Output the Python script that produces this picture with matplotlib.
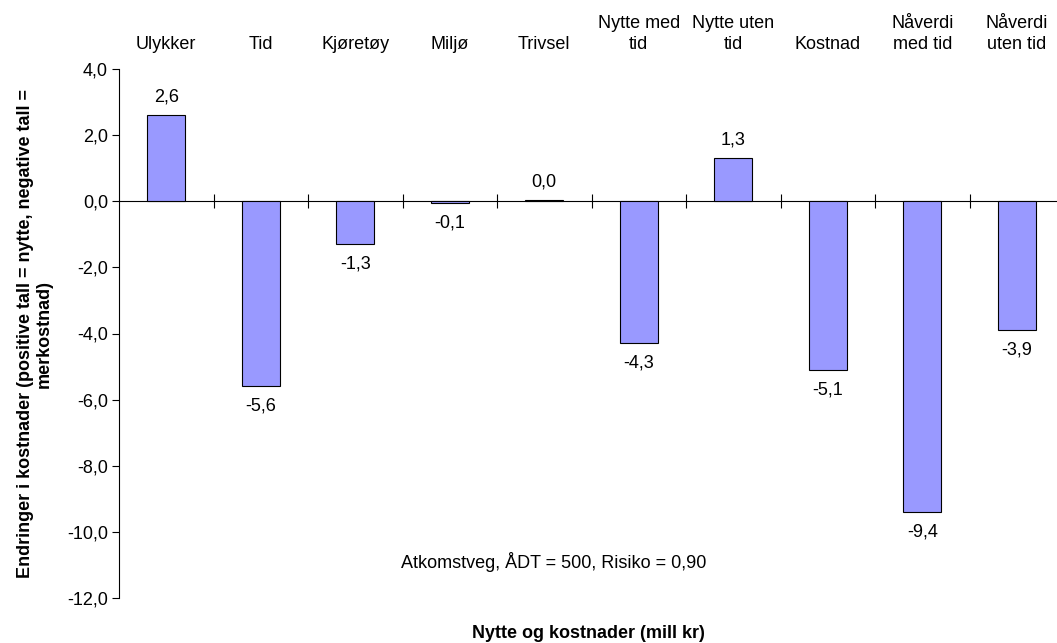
import matplotlib.pyplot as plt
import numpy as np
from matplotlib.ticker import FuncFormatter, FixedLocator

plt.rcParams['font.family'] = ['Liberation Sans', 'DejaVu Sans']

categories = ['Ulykker', 'Tid', 'Kjøretøy', 'Miljø', 'Trivsel', 'Nytte med\ntid',
              'Nytte uten\ntid', 'Kostnad', 'Nåverdi\nmed tid', 'Nåverdi\nuten tid']
values = [2.6, -5.6, -1.3, -0.05, 0.03, -4.3, 1.3, -5.1, -9.4, -3.9]
value_labels = ['2,6', '-5,6', '-1,3', '-0,1', '0,0', '-4,3', '1,3', '-5,1', '-9,4', '-3,9']

fig = plt.figure(figsize=(10.57, 6.43), dpi=100)
ax = fig.add_axes([119 / 1057, 1 - 598 / 643, 945 / 1057, (598 - 69) / 643])

x = np.arange(len(categories))
ax.bar(x, values, width=0.4, color='#9999FF', edgecolor='black', linewidth=0.8, zorder=3)

ax.set_xlim(-0.5, len(categories) - 0.5)
ax.set_ylim(-12, 4)
ax.set_yticks(np.arange(-12, 4.1, 2))
ax.yaxis.set_major_formatter(FuncFormatter(lambda v, p: f'{v:.1f}'.replace('.', ',')))
ax.tick_params(axis='y', direction='out', length=5, width=0.8, labelsize=13, pad=3)

# category axis drawn at zero, ticks between categories
ax.spines['top'].set_visible(False)
ax.spines['right'].set_visible(False)
ax.spines['bottom'].set_position(('data', 0))
ax.spines['bottom'].set_linewidth(0.8)
ax.spines['left'].set_linewidth(0.8)
ax.xaxis.set_major_locator(FixedLocator(x))
ax.xaxis.set_minor_locator(FixedLocator(x[:-1] + 0.5))
ax.tick_params(axis='x', which='major', length=0, labelbottom=False)
ax.tick_params(axis='x', which='minor', direction='inout', length=10, width=0.8)

# category names above the plot
for i, name in enumerate(categories):
    ax.text(i, 1.03, name, transform=ax.get_xaxis_transform(),
            ha='center', va='bottom', fontsize=13, linespacing=1.35)

# value labels
for i, (v, lab) in enumerate(zip(values, value_labels)):
    if v >= 0:
        ax.text(i, v + 0.3, lab, ha='center', va='bottom', fontsize=13)
    else:
        ax.text(i, v - 0.35, lab, ha='center', va='top', fontsize=13)

ax.text(4.1, -10.9, 'Atkomstveg, ÅDT = 500, Risiko = 0,90', ha='center', va='center', fontsize=13)

ax.set_ylabel('Endringer i kostnader (positive tall = nytte, negative tall =\nmerkostnad)',
              fontsize=13, fontweight='bold', labelpad=10, linespacing=1.15)
fig.text(588 / 1057, 1 - 633 / 643, 'Nytte og kostnader (mill kr)', ha='center', va='center',
         fontsize=13, fontweight='bold')

fig.savefig('out.png', dpi=100)
